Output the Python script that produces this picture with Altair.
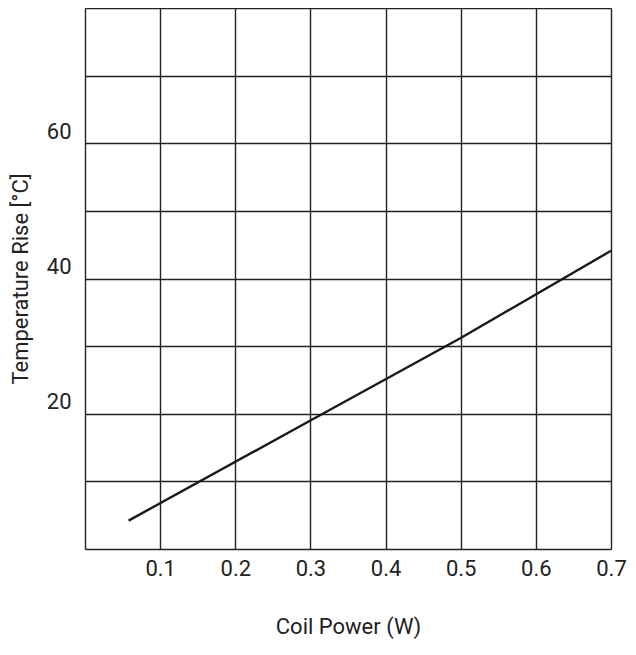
import altair as alt
import pandas as pd

power_w = [0.058, 0.3, 0.5, 0.7]
temp_rise_c = [4.2, 19.0, 31.2, 44.1]

x_grid = [0.0, 0.1, 0.2, 0.3, 0.4, 0.5, 0.6, 0.7]
y_grid = [0, 10, 20, 30, 40, 50, 60, 70, 80]

df = pd.DataFrame({"p": power_w, "t": temp_rise_c})

FONT = "Roboto"
INK = "#222222"
FS = 22

x_enc = alt.X(
    "p:Q",
    title="Coil Power (W)",
    scale=alt.Scale(domain=[0, 0.7], nice=False, zero=False),
    axis=alt.Axis(
        values=x_grid,
        format=".1f",
        labelExpr="datum.value == 0 ? '' : datum.label",
        grid=True,
        gridColor=INK,
        gridWidth=1.4,
        gridOpacity=1,
        ticks=False,
        domain=False,
        labelFont=FONT,
        labelFontSize=FS,
        labelColor=INK,
        labelPadding=9,
        labelFlush=False,
        titleFont=FONT,
        titleFontSize=FS,
        titleFontWeight="normal",
        titleColor=INK,
        titlePadding=37,
    ),
)

y_enc = alt.Y(
    "t:Q",
    title="Temperature Rise [°C]",
    scale=alt.Scale(domain=[0, 80], nice=False, zero=False),
    axis=alt.Axis(
        values=y_grid,
        labelExpr="(datum.value == 20 || datum.value == 40 || datum.value == 60) ? datum.label : ''",
        grid=True,
        gridColor=INK,
        gridWidth=1.4,
        gridOpacity=1,
        ticks=False,
        domain=False,
        labelFont=FONT,
        labelFontSize=FS,
        labelColor=INK,
        labelPadding=14,
        labelBaseline="bottom",
        labelFlush=False,
        titleFont=FONT,
        titleFontSize=FS,
        titleFontWeight="normal",
        titleColor=INK,
        titlePadding=14,
    ),
)

chart = (
    alt.Chart(df)
    .mark_line(color="#1a1a1a", strokeWidth=2.4)
    .encode(x=x_enc, y=y_enc)
    .properties(
        width=526,
        height=541,
        autosize=alt.AutoSizeParams(type="none"),
        padding={"left": 77, "top": 0, "right": 17, "bottom": 91},
    )
    .configure_view(stroke=INK, strokeWidth=1.6)
    .configure(background="white")
)

chart.save("out.html", embed_options={"renderer": "svg", "actions": False})
